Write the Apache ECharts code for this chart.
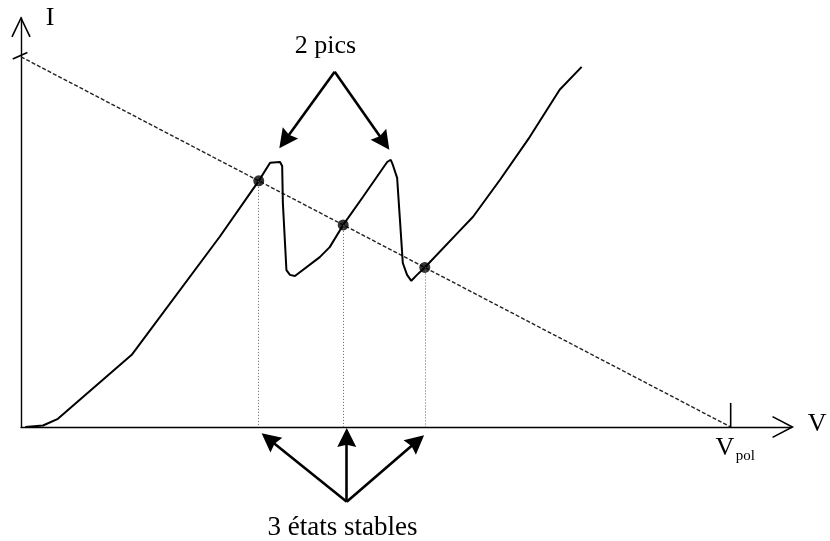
<!DOCTYPE html>
<html>
<head>
<meta charset="utf-8">
<script src="https://cdn.jsdelivr.net/npm/echarts@6/dist/echarts.min.js"></script>
<style>
  html, body { margin: 0; padding: 0; background: #fff; }
  #chart { width: 830px; height: 541px; }
</style>
</head>
<body>
<div id="chart"></div>
<script>
// I(V) characteristic of a double-peak device, in units of V/Vpol*10 and I/Imax*10
const voltage = [0.06, 0.31, 0.52, 1.56, 2.80, 3.35, 3.51, 3.65, 3.68, 3.69, 3.74, 3.79, 3.86, 4.21, 4.35, 4.54, 4.82, 5.16, 5.21, 5.24, 5.30, 5.34, 5.38, 5.44, 5.50, 5.58, 5.69, 6.19, 6.37, 6.75, 7.17, 7.59, 7.90];
const current = [0.00, 0.04, 0.22, 1.95, 5.14, 6.65, 7.14, 7.16, 7.05, 6.05, 4.24, 4.11, 4.08, 4.59, 4.86, 5.46, 6.22, 7.16, 7.22, 7.08, 6.73, 5.59, 4.43, 4.11, 3.95, 4.11, 4.31, 5.32, 5.68, 6.68, 7.84, 9.11, 9.73];

// Load line: from (0, Imax) to (Vpol, 0)
const vPol = 10;
const iMax = 10;

// The three stable operating points (intersections with the load line)
const stableV = [3.35, 4.54, 5.69];
const stableI = [6.65, 5.46, 4.31];

// Labels
const labelCurrent = 'I';
const labelVoltage = 'V';
const labelPeaks = '2 pics';
const labelStates = '3 états stables';
const labelVpolMain = 'V';
const labelVpolSub = 'pol';

const FONT = '"Liberation Serif", "Times New Roman", serif';
const ARROW_LEN = 19;

const chart = echarts.init(document.getElementById('chart'), null, { renderer: 'canvas' });

const curveData = voltage.map((v, i) => [v, current[i]]);
const stableData = stableV.map((v, i) => [v, stableI[i]]);

// Axis arrowheads (open chevrons) and small ticks
const axisMarks = [
  { coords: [[10.59, 0.28], [10.87, 0], [10.59, -0.28]] },
  { coords: [[-0.127, 10.54], [0, 11.05], [0.127, 10.54]] },
  { coords: [[-0.117, 9.94], [0.09, 10.12]] },
  { coords: [[vPol, 0], [vPol, 0.65]] }
];

// Annotation arrows: "2 pics" points to the two peaks, "3 états stables" to the three points
const arrowPath = 'path://M10,0 L20,20 L10,17.5 L0,20 Z';
const peakOrigin = [4.42, 9.60];
const peakTips = [[3.64, 7.53], [5.19, 7.49]];
const stateOrigin = [4.59, -2.02];
const stateTips = [[3.39, -0.17], [4.59, -0.03], [5.68, -0.22]];

const baseOption = {
  animation: false,
  backgroundColor: '#ffffff',
  grid: { left: 21, right: 39, top: 18, bottom: 114, containLabel: false },
  xAxis: {
    type: 'value', min: 0, max: 10.85,
    axisLine: { show: true, onZero: true, lineStyle: { color: '#000', width: 1.4 } },
    axisTick: { show: false }, axisLabel: { show: false }, splitLine: { show: false }
  },
  yAxis: {
    type: 'value', min: 0, max: 11.05,
    axisLine: { show: true, lineStyle: { color: '#000', width: 1.4 } },
    axisTick: { show: false }, axisLabel: { show: false }, splitLine: { show: false }
  },
  series: [
    {
      name: 'load',
      type: 'line',
      data: [[0, iMax], [vPol, 0]],
      showSymbol: false,
      clip: false,
      lineStyle: { color: '#222', width: 1.4, type: [4, 2] },
      silent: true,
      z: 2
    },
    {
      name: 'I(V)',
      type: 'line',
      data: curveData,
      showSymbol: false,
      clip: false,
      lineStyle: { color: '#000', width: 2 },
      silent: true,
      z: 3
    },
    {
      name: 'stable',
      type: 'scatter',
      data: stableData,
      symbol: 'circle',
      symbolSize: 11,
      itemStyle: { color: '#000' },
      silent: true,
      z: 4,
      markLine: {
        silent: true,
        symbol: ['none', 'none'],
        label: { show: false },
        lineStyle: { color: '#666', width: 1, type: [1, 2] },
        data: stableData.map(p => [{ coord: [p[0], p[1]] }, { coord: [p[0], 0] }])
      }
    },
    {
      name: 'axisMarks',
      type: 'lines',
      coordinateSystem: 'cartesian2d',
      polyline: true,
      clip: false,
      data: axisMarks,
      lineStyle: { color: '#000', width: 1.6, opacity: 1 },
      silent: true,
      z: 5
    }
  ]
};
chart.setOption(baseOption);

function at(x, y) { return chart.convertToPixel({ gridIndex: 0 }, [x, y]); }
function fromPx(p) { return chart.convertFromPixel({ gridIndex: 0 }, p); }

// The arrow symbol is centred on the segment end, so pull each end back by half
// the head length to make the head's point land on the target.
function arrowSegment(from, to) {
  const a = at(from[0], from[1]);
  const b = at(to[0], to[1]);
  const dx = b[0] - a[0], dy = b[1] - a[1];
  const len = Math.sqrt(dx * dx + dy * dy);
  const k = (len - ARROW_LEN / 2) / len;
  const end = fromPx([a[0] + dx * k, a[1] + dy * k]);
  return { coords: [from, end] };
}
const annotationArrows = []
  .concat(peakTips.map(t => arrowSegment(peakOrigin, t)))
  .concat(stateTips.map(t => arrowSegment(stateOrigin, t)));

function textEl(str, pos, size, align) {
  const p = at(pos[0], pos[1]);
  return {
    type: 'text', silent: true, z: 10,
    style: { text: str, x: p[0], y: p[1], font: size + 'px ' + FONT, fill: '#000', align: align || 'center', verticalAlign: 'middle' }
  };
}

chart.setOption({
  series: baseOption.series.concat([{
    name: 'arrows',
    type: 'lines',
    coordinateSystem: 'cartesian2d',
    clip: false,
    data: annotationArrows,
    symbol: ['none', arrowPath],
    symbolSize: [ARROW_LEN, ARROW_LEN],
    lineStyle: { color: '#000', width: 2.6, opacity: 1, curveness: 0 },
    itemStyle: { color: '#000' },
    silent: true,
    z: 5
  }]),
  graphic: [
    textEl(labelCurrent, [0.41, 11.05], 26),
    textEl(labelPeaks, [4.29, 10.28], 26),
    textEl(labelStates, [4.53, -2.72], 27),
    textEl(labelVoltage, [11.22, 0.08], 26),
    textEl(labelVpolMain, [9.92, -0.58], 26),
    textEl(labelVpolSub, [10.07, -0.78], 15, 'left')
  ]
});
</script>
</body>
</html>
